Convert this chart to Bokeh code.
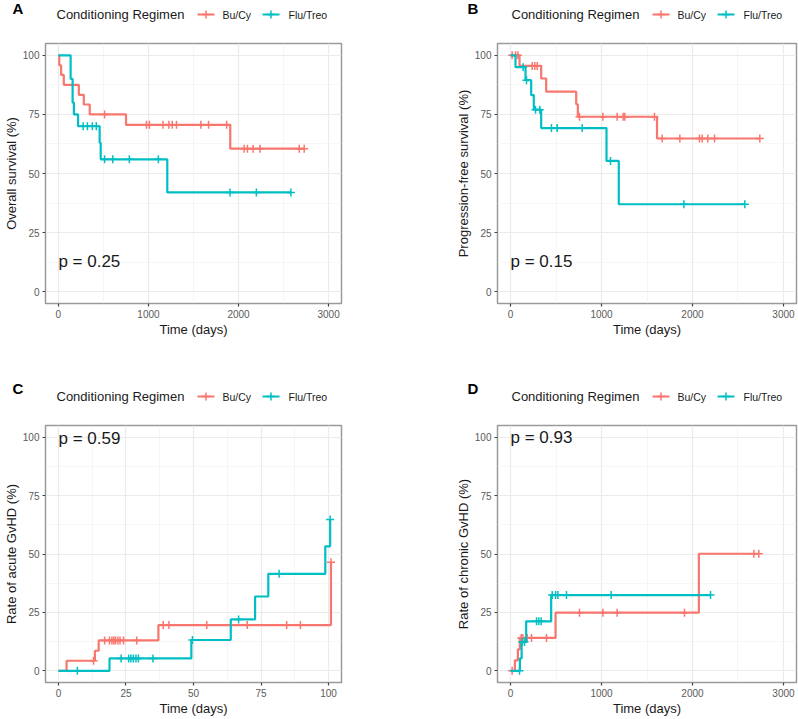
import numpy as np
from bokeh.plotting import figure
from bokeh.models import Range1d, FixedTicker, Label
from bokeh.layouts import row, column
from bokeh.embed import file_html
from bokeh.resources import INLINE

RED = "#F8766D"
TEAL = "#00BFC4"
FONT = "Liberation Sans"

groups = ["Bu/Cy", "Flu/Treo"]
group_colors = [RED, TEAL]
legend_title = "Conditioning Regimen"

# ---- A: Overall survival ----
os_bucy_event_t = [10, 30, 60, 227, 282, 348, 751, 1908]
os_bucy_surv = [95.8, 91.7, 87.5, 83.3, 79.2, 75.0, 70.6, 60.5]
os_bucy_cens = [513, 978, 1010, 1161, 1227, 1264, 1311, 1582, 1667, 1868,
                2062, 2099, 2161, 2238, 2674, 2729]
os_flu_event_t = [136, 158, 172, 218, 458, 470, 1209]
os_flu_surv = [90.0, 80.0, 75.0, 70.0, 63.0, 56.0, 42.0]
os_flu_cens = [275, 322, 377, 421, 513, 604, 788, 1110, 1905, 2198, 2582]

# ---- B: Progression-free survival ----
pfs_bucy_event_t = [99, 337, 392, 722, 740, 1610]
pfs_bucy_surv = [95.5, 90.2, 84.6, 79.3, 74.0, 64.8]
pfs_bucy_cens = [18, 55, 81, 238, 267, 293, 758, 1015, 1172, 1238, 1256, 1582,
                 1667, 1861, 2077, 2106, 2168, 2242, 2740]
pfs_flu_event_t = [55, 165, 227, 256, 337, 1055, 1190]
pfs_flu_surv = [95.0, 89.5, 83.2, 77.0, 69.2, 55.3, 37.0]
pfs_flu_cens = [139, 176, 275, 322, 450, 513, 788, 1099, 1905, 2575]

# ---- C: acute GvHD (days 0-100) ----
agvhd_bucy_event_t = [3, 13.5, 14.9, 37, 100.9]
agvhd_bucy_rate = [4.3, 8.6, 13.0, 19.6, 46.5]
agvhd_bucy_cens = [13.0, 17.1, 18.9, 19.8, 20.5, 21.1, 22.0, 22.8, 24.1, 29.0,
                   38.8, 40.9, 54.9, 69.9, 84.5, 89.6, 100.9]
agvhd_flu_event_t = [18.9, 49.2, 63.8, 72.8, 77.7, 98.8, 100.6]
agvhd_flu_rate = [5.3, 13.2, 22.0, 31.8, 41.5, 53.3, 64.8]
agvhd_flu_cens = [7.0, 23.2, 26.0, 26.8, 27.7, 28.7, 29.6, 35.0, 49.6, 66.7,
                  81.7, 100.6]

# ---- D: chronic GvHD ----
cgvhd_bucy_event_t = [48, 81, 103, 495, 2070]
cgvhd_bucy_rate = [4.5, 9.2, 14.1, 24.9, 50.1]
cgvhd_bucy_cens = [18, 117, 136, 183, 231, 396, 758, 1015, 1172, 1912, 2674, 2729]
cgvhd_flu_event_t = [103, 122, 172, 447]
cgvhd_flu_rate = [5.3, 12.3, 21.2, 32.4]
cgvhd_flu_cens = [99, 128, 154, 286, 311, 337, 458, 495, 520, 615, 1106, 2198]

p_values = ["p = 0.25", "p = 0.15", "p = 0.59", "p = 0.93"]
panel_letters = ["A", "B", "C", "D"]
y_titles = ["Overall survival (%)", "Progression-free survival (%)",
            "Rate of acute GvHD (%)", "Rate of chronic GvHD (%)"]
x_title = "Time (days)"
y_ticks = [0, 25, 50, 75, 100]
y_minor = [12.5, 37.5, 62.5, 87.5]
x_ticks_long = [0, 1000, 2000, 3000]
x_minor_long = [500, 1500, 2500]
x_ticks_short = [0, 25, 50, 75, 100]
x_minor_short = [12.5, 37.5, 62.5, 87.5]

W_TOTAL = 798
W = 399
TOP_HDR, TOP_MAIN = 28, 337
BOT_HDR, BOT_MAIN = 44, 309


def stairs(start_val, event_t, vals, end_t):
    xs, ys = [0.0], [start_val]
    cur = start_val
    for t, v in zip(event_t, vals):
        xs += [t, t]
        ys += [cur, v]
        cur = v
    xs.append(end_t)
    ys.append(cur)
    return xs, ys


def level_at(start_val, event_t, vals, times):
    idx = np.searchsorted(np.array(event_t, float), np.array(times, float), side="right")
    return [start_val if i == 0 else vals[i - 1] for i in idx]


def header(height, letters, letter_y, title_y):
    """Full-width strip: panel letters + ggplot-style horizontal legends (pixel units)."""
    h = figure(width=W_TOTAL, height=height, output_backend="svg",
               toolbar_location=None, x_axis_type=None, y_axis_type=None,
               x_range=Range1d(0, W_TOTAL), y_range=Range1d(0, height),
               min_border=0, min_border_left=0, min_border_right=0,
               min_border_top=0, min_border_bottom=0)
    h.outline_line_color = None
    h.background_fill_color = "white"
    h.border_fill_color = "white"
    h.xgrid.visible = False
    h.ygrid.visible = False
    for k, letter in enumerate(letters):
        off = k * 455
        h.add_layout(Label(x=12 + off, y=letter_y, text=letter, text_font=FONT,
                           text_font_size="15px", text_font_style="bold",
                           text_color="black", text_baseline="middle",
                           text_align="left"))
        h.add_layout(Label(x=56 + off, y=title_y, text=legend_title,
                           text_font=FONT, text_font_size="13px",
                           text_color="#1a1a1a", text_baseline="middle",
                           text_align="left"))
        key_x0 = [197 + off, 262 + off]
        label_x = [222 + off, 288 + off]
        h.segment(x0=key_x0, x1=[x + 17 for x in key_x0], y0=[title_y] * 2,
                  y1=[title_y] * 2, line_color=group_colors, line_width=2.2)
        h.scatter(x=[x + 8.5 for x in key_x0], y=[title_y] * 2, marker="cross",
                  size=8, line_color=group_colors, line_width=1.5)
        for lx, name in zip(label_x, groups):
            h.add_layout(Label(x=lx, y=title_y, text=name, text_font=FONT,
                               text_font_size="10.5px", text_color="#1a1a1a",
                               text_baseline="middle", text_align="left"))
    return h


def panel(ytitle, pval, pval_y, xr, xt, xm, curves, start_val,
          height, mb_left, mb_right, mb_top, mb_bottom):
    p = figure(width=W, height=height, output_backend="svg",
               toolbar_location=None, x_range=Range1d(*xr),
               y_range=Range1d(-5, 105),
               min_border_left=mb_left, min_border_right=mb_right,
               min_border_top=mb_top, min_border_bottom=mb_bottom)
    p.background_fill_color = "white"
    p.border_fill_color = "white"
    p.outline_line_color = "#9a9a9a"
    p.outline_line_width = 1.5
    p.xaxis.ticker = FixedTicker(ticks=xt, minor_ticks=xm)
    p.yaxis.ticker = FixedTicker(ticks=y_ticks, minor_ticks=y_minor)
    p.xaxis.axis_label = x_title
    p.yaxis.axis_label = ytitle
    for ax in (p.xaxis[0], p.yaxis[0]):
        ax.axis_line_color = None
        ax.major_tick_line_color = "#444444"
        ax.major_tick_line_width = 1.2
        ax.major_tick_out = 3
        ax.major_tick_in = 0
        ax.minor_tick_line_color = None
        ax.major_label_text_font = FONT
        ax.major_label_text_font_size = "10px"
        ax.major_label_text_color = "#5a5a5a"
        ax.major_label_standoff = 2
        ax.axis_label_text_font = FONT
        ax.axis_label_text_font_size = "13px"
        ax.axis_label_text_font_style = "normal"
        ax.axis_label_text_color = "#1a1a1a"
        ax.axis_label_standoff = 1
    for g in (p.xgrid[0], p.ygrid[0]):
        g.grid_line_color = "#EBEBEB"
        g.grid_line_width = 1.2
        g.minor_grid_line_color = "#F2F2F2"
        g.minor_grid_line_width = 0.7

    for name, color, ev, vals, cens in curves:
        end_t = max(max(cens), max(ev))
        xs, ys = stairs(start_val, ev, vals, end_t)
        p.line(xs, ys, line_color=color, line_width=2.2)
        cy = level_at(start_val, ev, vals, cens)
        p.scatter(cens, cy, marker="cross", size=8, line_color=color,
                  line_width=1.5)

    p.add_layout(Label(x=0, y=pval_y, text=pval, text_font=FONT,
                       text_font_size="17px", text_color="#1a1a1a",
                       text_align="left", text_baseline="middle"))
    return p


hTop = header(TOP_HDR, panel_letters[:2], 20, 14)
hBot = header(BOT_HDR, panel_letters[2:], 21, 13)

pA = panel(y_titles[0], p_values[0], 12.7, (-143, 3143), x_ticks_long, x_minor_long,
           [(groups[0], RED, os_bucy_event_t, os_bucy_surv, os_bucy_cens),
            (groups[1], TEAL, os_flu_event_t, os_flu_surv, os_flu_cens)], 100.0,
           TOP_MAIN, 42, 58, 15, 62)
pB = panel(y_titles[1], p_values[1], 12.7, (-143, 3143), x_ticks_long, x_minor_long,
           [(groups[0], RED, pfs_bucy_event_t, pfs_bucy_surv, pfs_bucy_cens),
            (groups[1], TEAL, pfs_flu_event_t, pfs_flu_surv, pfs_flu_cens)], 100.0,
           TOP_MAIN, 98, 2, 15, 62)
pC = panel(y_titles[2], p_values[2], 99.6, (-4.8, 104.8), x_ticks_short, x_minor_short,
           [(groups[0], RED, agvhd_bucy_event_t, agvhd_bucy_rate, agvhd_bucy_cens),
            (groups[1], TEAL, agvhd_flu_event_t, agvhd_flu_rate, agvhd_flu_cens)], 0.0,
           BOT_MAIN, 42, 58, 16, 33)
pD = panel(y_titles[3], p_values[3], 99.7, (-143, 3143), x_ticks_long, x_minor_long,
           [(groups[0], RED, cgvhd_bucy_event_t, cgvhd_bucy_rate, cgvhd_bucy_cens),
            (groups[1], TEAL, cgvhd_flu_event_t, cgvhd_flu_rate, cgvhd_flu_cens)], 0.0,
           BOT_MAIN, 98, 2, 16, 33)

layout = column(hTop, row(pA, pB), hBot, row(pC, pD))
open("out.html", "w").write(file_html(layout, INLINE))
